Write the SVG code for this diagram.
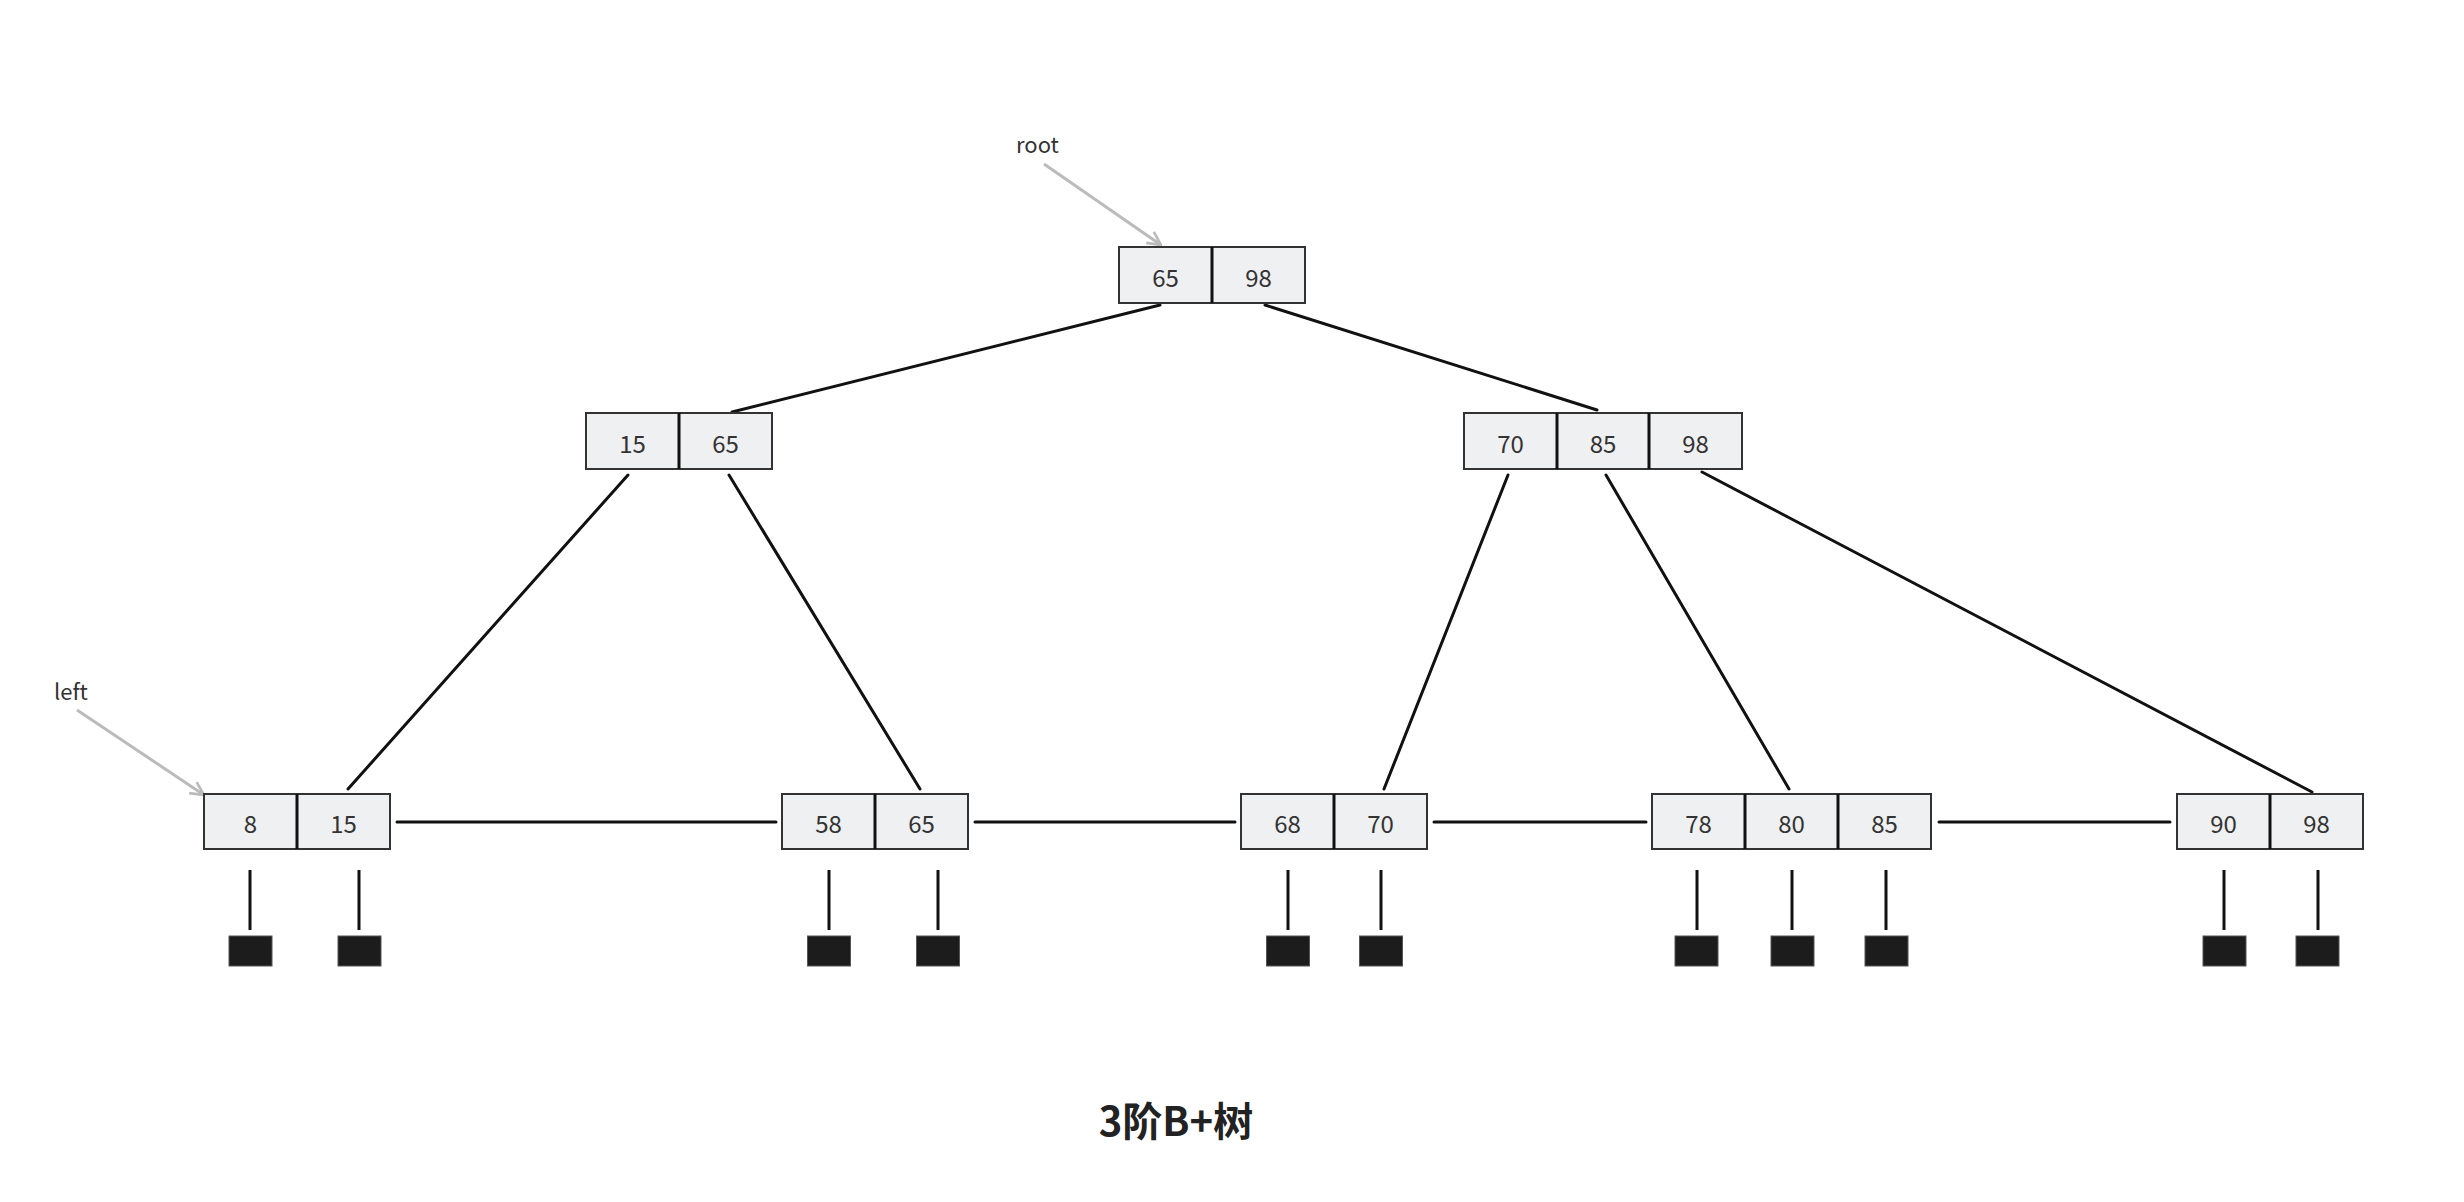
<svg xmlns="http://www.w3.org/2000/svg" width="2464" height="1202" viewBox="0 0 2464 1202">
<style>
.cell{fill:#eff0f2;stroke:#333;stroke-width:2}
.div{stroke:#111;stroke-width:3}
.k{font-family:"Noto Sans CJK SC","Noto Sans",sans-serif;font-size:24px;fill:#333;text-anchor:middle}
.lbl{font-family:"Noto Sans CJK SC","Noto Sans",sans-serif;font-size:22px;fill:#333}
.edge{stroke:#111;stroke-width:3;fill:none;stroke-linecap:round}
.ptr{stroke:#111;stroke-width:3}
.sq{fill:#1c1c1c;stroke:#555;stroke-width:1}
.arr{stroke:#bbb;stroke-width:3;fill:none}
</style>
<defs>
<marker id="chev" viewBox="0 0 12 12" refX="11" refY="6" markerWidth="16" markerHeight="16" markerUnits="userSpaceOnUse" orient="auto">
<path d="M1,1 L11,6 L1,11" fill="none" stroke="#bbb" stroke-width="2"/>
</marker>
</defs>
<rect width="2464" height="1202" fill="#fff"/>
<g id="connectors">
<line class="edge" x1="1160" y1="305" x2="732" y2="412"/>
<line class="edge" x1="1265" y1="305" x2="1597" y2="410"/>
<line class="edge" x1="628" y1="475" x2="348" y2="789"/>
<line class="edge" x1="729" y1="475" x2="920" y2="789"/>
<line class="edge" x1="1508" y1="475" x2="1384" y2="789"/>
<line class="edge" x1="1606" y1="475" x2="1789" y2="789"/>
<line class="edge" x1="1702" y1="472" x2="2312" y2="792"/>
<line class="edge" x1="397" y1="822" x2="776" y2="822"/>
<line class="edge" x1="975" y1="822" x2="1235" y2="822"/>
<line class="edge" x1="1434" y1="822" x2="1646" y2="822"/>
<line class="edge" x1="1939" y1="822" x2="2170" y2="822"/>
<line class="arr" x1="1044" y1="164" x2="1161" y2="245" marker-end="url(#chev)"/>
<line class="arr" x1="77" y1="710" x2="204" y2="795" marker-end="url(#chev)"/>
</g>
<g id="labels">
<text class="lbl" x="1016" y="153">root</text>
<text class="lbl" x="54" y="700">left</text>
</g>
<g id="root">
<rect class="cell" x="1119" y="247" width="186" height="56"/>
<line class="div" x1="1212" y1="247" x2="1212" y2="303"/>
<text class="k" x="1165.5" y="286.5">65</text>
<text class="k" x="1258.5" y="286.5">98</text>
</g>
<g id="inner-left">
<rect class="cell" x="586" y="413" width="186" height="56"/>
<line class="div" x1="679" y1="413" x2="679" y2="469"/>
<text class="k" x="632.5" y="452.5">15</text>
<text class="k" x="725.5" y="452.5">65</text>
</g>
<g id="inner-right">
<rect class="cell" x="1464" y="413" width="278" height="56"/>
<line class="div" x1="1557" y1="413" x2="1557" y2="469"/>
<line class="div" x1="1649" y1="413" x2="1649" y2="469"/>
<text class="k" x="1510.5" y="452.5">70</text>
<text class="k" x="1603" y="452.5">85</text>
<text class="k" x="1695.5" y="452.5">98</text>
</g>
<g id="leaf1">
<rect class="cell" x="204" y="794" width="186" height="55"/>
<line class="div" x1="297" y1="794" x2="297" y2="849"/>
<text class="k" x="250.5" y="833">8</text>
<text class="k" x="343.5" y="833">15</text>
<line class="ptr" x1="250" y1="870" x2="250" y2="930"/>
<line class="ptr" x1="359" y1="870" x2="359" y2="930"/>
<rect class="sq" x="229" y="936" width="43" height="30"/>
<rect class="sq" x="338" y="936" width="43" height="30"/>
</g>
<g id="leaf2">
<rect class="cell" x="782" y="794" width="186" height="55"/>
<line class="div" x1="875" y1="794" x2="875" y2="849"/>
<text class="k" x="828.5" y="833">58</text>
<text class="k" x="921.5" y="833">65</text>
<line class="ptr" x1="829" y1="870" x2="829" y2="930"/>
<line class="ptr" x1="938" y1="870" x2="938" y2="930"/>
<rect class="sq" x="807.5" y="936" width="43" height="30"/>
<rect class="sq" x="916.5" y="936" width="43" height="30"/>
</g>
<g id="leaf3">
<rect class="cell" x="1241" y="794" width="186" height="55"/>
<line class="div" x1="1334" y1="794" x2="1334" y2="849"/>
<text class="k" x="1287.5" y="833">68</text>
<text class="k" x="1380.5" y="833">70</text>
<line class="ptr" x1="1288" y1="870" x2="1288" y2="930"/>
<line class="ptr" x1="1381" y1="870" x2="1381" y2="930"/>
<rect class="sq" x="1266.5" y="936" width="43" height="30"/>
<rect class="sq" x="1359.5" y="936" width="43" height="30"/>
</g>
<g id="leaf4">
<rect class="cell" x="1652" y="794" width="279" height="55"/>
<line class="div" x1="1745" y1="794" x2="1745" y2="849"/>
<line class="div" x1="1838" y1="794" x2="1838" y2="849"/>
<text class="k" x="1698.5" y="833">78</text>
<text class="k" x="1791.5" y="833">80</text>
<text class="k" x="1884.5" y="833">85</text>
<line class="ptr" x1="1697" y1="870" x2="1697" y2="930"/>
<line class="ptr" x1="1792" y1="870" x2="1792" y2="930"/>
<line class="ptr" x1="1886" y1="870" x2="1886" y2="930"/>
<rect class="sq" x="1675" y="936" width="43" height="30"/>
<rect class="sq" x="1771" y="936" width="43" height="30"/>
<rect class="sq" x="1865" y="936" width="43" height="30"/>
</g>
<g id="leaf5">
<rect class="cell" x="2177" y="794" width="186" height="55"/>
<line class="div" x1="2270" y1="794" x2="2270" y2="849"/>
<text class="k" x="2223.5" y="833">90</text>
<text class="k" x="2316.5" y="833">98</text>
<line class="ptr" x1="2224" y1="870" x2="2224" y2="930"/>
<line class="ptr" x1="2318" y1="870" x2="2318" y2="930"/>
<rect class="sq" x="2203" y="936" width="43" height="30"/>
<rect class="sq" x="2296" y="936" width="43" height="30"/>
</g>
<g id="title">
<text x="1176" y="1136" text-anchor="middle" font-family="Noto Sans CJK SC, sans-serif" font-size="40" font-weight="bold" fill="#222">3阶B+树</text>
</g>
</svg>
